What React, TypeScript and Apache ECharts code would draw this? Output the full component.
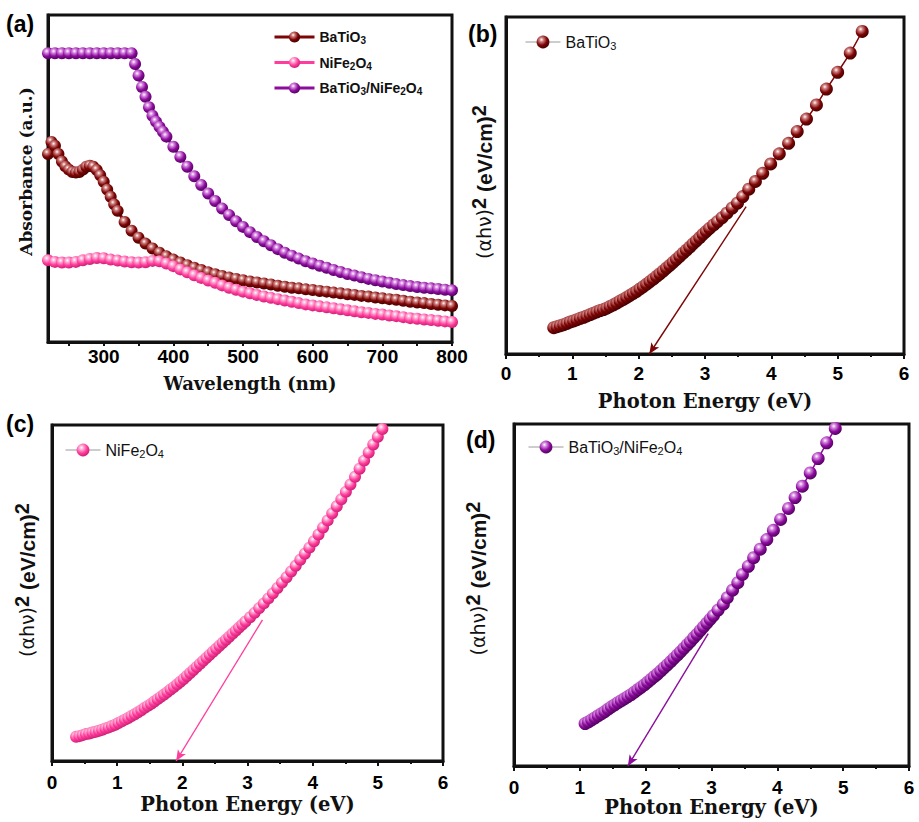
import React, { useEffect, useRef } from "react";
import * as echarts from "echarts";

// ---------- (a) UV-vis absorbance (wavelength nm, absorbance a.u.) ----------
const wlBaTiO3 = [220,225,230,235,240,245,250,255,260,265,270,275,280,285,290,295,300,305,310,315,320,
  330,340,350,360,370,380,390,400,410,420,430,440,450,460,470,480,490,500,510,520,530,540,550,560,570,580,590,
  600,610,620,630,640,650,660,670,680,690,700,710,720,730,740,750,760,770,780,790,800];
const absBaTiO3 = [0.575,0.612,0.600,0.575,0.552,0.537,0.527,0.520,0.518,0.520,0.527,0.536,0.539,0.536,0.526,0.510,0.490,0.466,0.444,0.421,0.401,
  0.367,0.340,0.319,0.301,0.286,0.273,0.262,0.252,0.243,0.235,0.227,0.220,0.213,0.207,0.202,0.197,0.193,
  0.189,0.185,0.182,0.179,0.176,0.172,0.169,0.166,0.164,0.161,
  0.159,0.156,0.154,0.151,0.149,0.146,0.144,0.141,0.139,0.136,
  0.134,0.131,0.129,0.126,0.123,0.121,0.119,0.116,0.114,0.112,0.110];

const wlNiFe2O4 = [220,230,240,250,260,270,280,290,300,310,320,330,340,350,360,370,380,390,400,410,420,430,440,450,460,
  470,480,490,500,510,520,530,540,550,560,570,580,590,600,610,620,630,640,650,660,670,680,690,700,710,720,730,740,750,
  760,770,780,790,800];
const absNiFe2O4 = [0.250,0.245,0.243,0.243,0.245,0.250,0.254,0.257,0.256,0.252,0.249,0.246,0.244,0.243,0.244,0.248,0.247,0.240,
  0.232,0.222,0.213,0.204,0.196,0.188,0.181,0.173,0.166,0.160,0.154,0.149,0.144,0.139,0.135,0.131,0.127,0.123,0.119,0.115,
  0.112,0.109,0.106,0.103,0.100,0.097,0.094,0.091,0.089,0.086,0.084,0.081,0.079,0.076,0.073,0.071,0.069,0.067,0.065,0.063,0.061];

const wlComposite = [220,230,240,250,260,270,280,290,300,310,320,330,340,345,350,355,360,365,370,375,380,385,390,
  400,410,420,430,440,450,460,470,480,490,500,510,520,530,540,550,560,570,580,590,600,610,620,630,640,650,660,670,680,690,
  700,710,720,730,740,750,760,770,780,790,800];
const absComposite = [0.883,0.883,0.883,0.883,0.883,0.883,0.883,0.883,0.883,0.883,0.883,0.883,0.883,
  0.850,0.815,0.780,0.750,0.718,0.692,0.674,0.658,0.643,0.628,
  0.597,0.566,0.536,0.507,0.480,0.454,0.431,0.408,0.388,0.369,
  0.352,0.336,0.321,0.308,0.296,0.284,0.273,0.264,0.255,0.247,
  0.240,0.233,0.227,0.220,0.214,0.208,0.203,0.198,0.193,0.189,
  0.185,0.181,0.177,0.174,0.171,0.168,0.166,0.164,0.162,0.160,0.158];

// ---------- (b) Tauc plot BaTiO3 ----------
const eBaTiO3 = [0.72,0.77,0.82,0.87,0.92,0.97,1.02,1.07,1.12,1.17,1.22,1.27,1.32,1.37,1.42,1.47,1.52,1.57,1.62,1.67,
  1.72,1.77,1.82,1.87,1.92,1.97,2.02,2.07,2.12,2.17,2.22,2.27,2.32,2.37,2.42,2.47,2.52,2.57,2.62,2.67,2.72,2.77,2.82,2.87,2.92,2.97,
  3.02,3.07,3.13,3.19,3.26,3.33,3.41,3.49,3.57,3.66,3.76,3.87,3.99,4.12,4.26,4.39,4.53,4.68,4.83,5.00,5.19,5.37];
const tBaTiO3 = [0.078,0.081,0.084,0.087,0.091,0.095,0.098,0.102,0.106,0.109,0.113,0.117,0.121,0.125,0.129,0.132,0.136,0.141,0.146,0.151,
  0.157,0.162,0.168,0.174,0.180,0.186,0.193,0.200,0.207,0.215,0.222,0.230,0.238,0.246,0.255,0.263,0.272,0.281,0.290,0.299,0.308,0.317,0.327,0.336,0.345,0.355,
  0.364,0.373,0.383,0.393,0.405,0.418,0.433,0.448,0.467,0.489,0.512,0.536,0.564,0.594,0.625,0.660,0.697,0.739,0.786,0.836,0.893,0.957];

// ---------- (c) Tauc plot NiFe2O4 ----------
const eNiFe2O4 = [0.37,0.42,0.47,0.52,0.57,0.62,0.67,0.72,0.77,0.82,0.87,0.92,0.97,1.02,1.07,1.12,1.17,1.22,1.27,1.32,1.37,1.42,1.47,
  1.52,1.57,1.62,1.67,1.72,1.77,1.82,1.87,1.92,1.97,2.02,2.07,2.12,2.17,2.22,2.27,2.32,2.37,2.42,2.47,2.52,2.57,2.62,2.67,2.72,2.77,
  2.82,2.87,2.92,2.97,3.04,3.11,3.18,3.25,3.32,3.39,3.46,3.53,3.60,3.67,3.74,3.81,3.88,3.95,4.02,4.09,4.16,4.23,4.30,4.37,4.44,
  4.51,4.58,4.65,4.72,4.79,4.86,4.93,5.00,5.07,5.14];
const tNiFe2O4 = [0.072,0.074,0.077,0.080,0.082,0.085,0.087,0.090,0.093,0.097,0.100,0.104,0.108,0.113,0.118,0.123,0.128,0.134,0.139,0.145,
  0.151,0.158,0.164,0.170,0.177,0.184,0.191,0.198,0.205,0.213,0.220,0.228,0.236,0.244,0.253,0.262,0.271,0.280,0.289,0.298,0.307,0.316,
  0.325,0.334,0.343,0.352,0.361,0.370,0.379,0.388,0.397,0.406,0.415,
  0.428,0.441,0.455,0.469,0.484,0.499,0.515,0.531,0.547,0.564,0.581,0.599,0.617,0.635,0.654,0.674,0.695,0.716,0.737,0.758,0.779,
  0.801,0.823,0.846,0.870,0.894,0.918,0.942,0.965,0.988,1.008];

// ---------- (d) Tauc plot BaTiO3/NiFe2O4 ----------
const eComposite = [1.08,1.13,1.18,1.23,1.28,1.33,1.38,1.43,1.48,1.53,1.58,1.63,1.68,1.73,1.78,1.83,1.88,1.93,1.98,2.03,
  2.08,2.13,2.18,2.23,2.28,2.33,2.38,2.43,2.48,2.53,2.58,2.63,2.68,2.73,2.78,2.83,2.88,2.93,2.98,3.03,
  3.10,3.18,3.24,3.32,3.40,3.47,3.56,3.64,3.74,3.84,3.94,4.05,4.17,4.27,4.38,4.50,4.62,4.75,4.88];
const tComposite = [0.124,0.129,0.135,0.141,0.147,0.153,0.159,0.166,0.173,0.179,0.185,0.191,0.197,0.203,0.209,0.216,0.223,0.230,0.237,0.245,
  0.253,0.261,0.269,0.278,0.287,0.296,0.305,0.315,0.324,0.334,0.344,0.354,0.364,0.375,0.385,0.396,0.407,0.418,0.429,0.440,
  0.456,0.473,0.492,0.514,0.536,0.560,0.584,0.609,0.634,0.662,0.689,0.721,0.753,0.785,0.818,0.857,0.899,0.945,0.987];

// band-gap extrapolation arrows [start, end] in data coordinates
const arrowB = [[3.62, 0.437], [2.16, 0]];
const arrowC = [[3.23, 0.42], [1.905, 0]];
const arrowD = [[2.95, 0.387], [1.73, 0]];

const wlTickLabels = [300, 400, 500, 600, 700, 800];
const wlTicks = [250, 300, 350, 400, 450, 500, 550, 600, 650, 700, 750, 800];

const SANS = "Liberation Sans";
const SERIF = "DejaVu Serif";

const COLORS = {
  brown: { light: "#d08080", base: "#7d0505", dark: "#420000" },
  pink: { light: "#ffb0d6", base: "#ff3d9c", dark: "#c81c72" },
  purple: { light: "#d88ae2", base: "#8c0c9c", dark: "#4c005a" },
};

function sphere(c: { light: string; base: string; dark: string }) {
  return new echarts.graphic.RadialGradient(0.38, 0.32, 0.72, [
    { offset: 0, color: "#ffffff" },
    { offset: 0.22, color: c.light },
    { offset: 0.6, color: c.base },
    { offset: 1, color: c.dark },
  ]);
}

const zip = (xs: number[], ys: number[]) => xs.map((x, i) => [x, ys[i]]);
const sub = (name: string) => name.replace(/(\d)/g, "{s|$1}");

export default function App() {
  const ref = useRef<HTMLDivElement>(null);
  useEffect(() => {
    if (!ref.current) return;
    const chart = echarts.init(ref.current, undefined, { renderer: "svg" });

    const grids = [
      { left: 48, top: 15, width: 404, height: 327 },
      { left: 506, top: 17, width: 398, height: 337 },
      { left: 52, top: 425, width: 391, height: 336 },
      { left: 514, top: 424, width: 395, height: 342 },
    ].map((g) => ({ ...g, show: true, borderColor: "#111", borderWidth: 3, containLabel: false }));

    const axisLine = { show: true, lineStyle: { color: "#111", width: 3 } };
    const tickLabel = { fontFamily: SANS, fontWeight: "bold", fontSize: 19, color: "#000" };
    const xName = { fontFamily: SERIF, fontWeight: "bold", fontSize: 19.5, color: "#111" };

    const energyAxis = (gridIndex: number, margin: number, nameGap: number) => ({
      gridIndex, type: "value", min: 0, max: 6, interval: 1,
      axisLine,
      axisTick: { show: true, length: 5, lineStyle: { color: "#111", width: 2 } },
      minorTick: { show: true, splitNumber: 2, length: 3, lineStyle: { color: "#111", width: 2 } },
      axisLabel: { ...tickLabel, margin },
      splitLine: { show: false }, minorSplitLine: { show: false },
      name: "Photon Energy (eV)", nameLocation: "middle", nameGap, nameTextStyle: xName,
    });

    const taucName = "{a|(αhν)}{s|2}{b| (eV/cm)}{s|2}";
    const taucRich = {
      a: { fontFamily: "DejaVu Sans", fontWeight: "normal", fontSize: 19, color: "#111" },
      b: { fontFamily: SANS, fontWeight: "bold", fontSize: 21, color: "#111" },
      s: { fontFamily: SANS, fontWeight: "bold", fontSize: 20, color: "#111", padding: [0, 0, 10, 0] },
    };
    const taucAxis = (gridIndex: number, nameGap: number, shift: number) => ({
      gridIndex, type: "value", min: 0, max: 1,
      axisLine, axisTick: { show: false }, axisLabel: { show: false }, splitLine: { show: false },
      name: taucName, nameLocation: "middle", nameRotate: 90, nameGap,
      nameTextStyle: { padding: [0, 0, 0, shift], rich: taucRich },
    });

    const lineSeries = (
      name: string, data: number[][], xi: number, c: { light: string; base: string; dark: string },
      size: number, lw: number, arrow?: number[][]
    ) => ({
      name, type: "line", xAxisIndex: xi, yAxisIndex: xi, data,
      symbol: "circle", symbolSize: size, showSymbol: true, clip: true, silent: true,
      itemStyle: { color: sphere(c), borderWidth: 0 },
      lineStyle: { color: c.base, width: lw },
      emphasis: { disabled: true },
      markLine: arrow
        ? {
            silent: true, symbol: ["none", "arrow"], symbolSize: [7, 11], animation: false,
            lineStyle: { color: c.base, width: 1.4, type: "solid" },
            label: { show: false }, emphasis: { disabled: true },
            data: [[{ coord: arrow[0] }, { coord: arrow[1] }]],
          }
        : undefined,
    });

    const smallLegend = (left: number, top: number, name: string) => ({
      left, top, padding: 0, itemWidth: 35, itemHeight: 16, selectedMode: false,
      data: [name], formatter: sub,
      lineStyle: { color: "#9a9a9a", width: 1 },
      textStyle: {
        fontFamily: SANS, fontSize: 16, color: "#111",
        rich: { s: { fontFamily: SANS, fontSize: 11, color: "#111", padding: [8, 0, 0, 0] } },
      },
    });

    const option: any = {
      animation: false,
      backgroundColor: "#ffffff",
      grid: grids,
      xAxis: [
        {
          gridIndex: 0, type: "value", min: 220, max: 800,
          axisLine,
          axisTick: { show: true, customValues: wlTicks, length: 4, lineStyle: { color: "#111", width: 2 } },
          axisLabel: { ...tickLabel, customValues: wlTickLabels, margin: 5 },
          splitLine: { show: false },
          name: "Wavelength (nm)", nameLocation: "middle", nameGap: 32, nameTextStyle: { ...xName, fontSize: 18 },
        },
        energyAxis(1, 10, 37),
        energyAxis(2, 12, 33),
        energyAxis(3, 12, 30),
      ],
      yAxis: [
        {
          gridIndex: 0, type: "value", min: 0, max: 1,
          axisLine, axisTick: { show: false }, axisLabel: { show: false }, splitLine: { show: false },
          name: "Absorbance (a.u.)", nameLocation: "middle", nameRotate: 90, nameGap: 14,
          nameTextStyle: { fontFamily: SERIF, fontWeight: "bold", fontSize: 17, color: "#111", padding: [0, 0, 0, 14] },
        },
        taucAxis(1, 7, 7),
        taucAxis(2, 10, 26),
        taucAxis(3, 21, 33),
      ],
      legend: [
        {
          left: 273, top: 30, orient: "vertical", padding: 0, itemWidth: 40, itemHeight: 14, itemGap: 10,
          selectedMode: false, data: ["BaTiO3", "NiFe2O4", "BaTiO3/NiFe2O4"], formatter: sub,
          lineStyle: { width: 3 },
          textStyle: {
            fontFamily: SANS, fontWeight: "bold", fontSize: 14, color: "#111",
            rich: { s: { fontFamily: SANS, fontWeight: "bold", fontSize: 10, color: "#111", padding: [7, 0, 0, 0] } },
          },
        },
        smallLegend(525, 34, "BaTiO3"),
        smallLegend(65, 442, "NiFe2O4"),
        smallLegend(528, 439, "BaTiO3/NiFe2O4"),
      ],
      graphic: [
        { type: "text", x: 6, y: 12, style: { text: "(a)", font: `bold 23px "${SANS}"`, fill: "#000" } },
        { type: "text", x: 468, y: 22, style: { text: "(b)", font: `bold 23px "${SANS}"`, fill: "#000" } },
        { type: "text", x: 6, y: 412, style: { text: "(c)", font: `bold 23px "${SANS}"`, fill: "#000" } },
        { type: "text", x: 466, y: 428, style: { text: "(d)", font: `bold 23px "${SANS}"`, fill: "#000" } },
      ],
      series: [
        lineSeries("BaTiO3", zip(wlBaTiO3, absBaTiO3), 0, COLORS.brown, 12, 3),
        lineSeries("NiFe2O4", zip(wlNiFe2O4, absNiFe2O4), 0, COLORS.pink, 12, 3),
        lineSeries("BaTiO3/NiFe2O4", zip(wlComposite, absComposite), 0, COLORS.purple, 12, 3),
        lineSeries("BaTiO3", zip(eBaTiO3, tBaTiO3), 1, COLORS.brown, 13, 1.5, arrowB),
        lineSeries("NiFe2O4", zip(eNiFe2O4, tNiFe2O4), 2, COLORS.pink, 12, 1.5, arrowC),
        lineSeries("BaTiO3/NiFe2O4", zip(eComposite, tComposite), 3, COLORS.purple, 13, 1.5, arrowD),
      ],
    };

    chart.setOption(option);
    return () => chart.dispose();
  }, []);

  return (
    <div
      ref={ref}
      style={{ position: "absolute", left: 0, top: 0, width: 919, height: 822, background: "#fff" }}
    />
  );
}
